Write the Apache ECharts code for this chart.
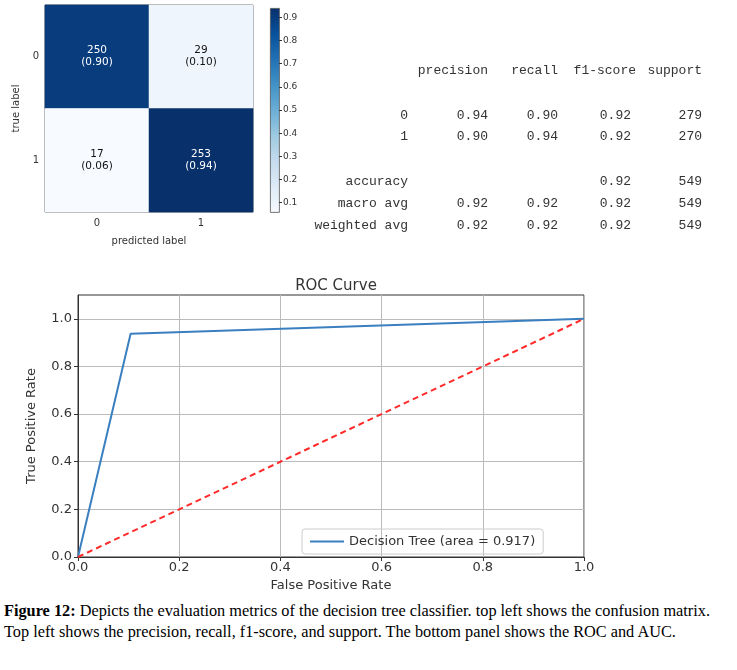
<!DOCTYPE html>
<html>
<head>
<meta charset="utf-8">
<script src="https://cdn.jsdelivr.net/npm/echarts@6/dist/echarts.min.js"></script>
<style>
  body { margin: 0; background: #fff; }
  #chart { width: 737px; height: 600px; }
  #cap { width: 728px; padding: 0 4px; font-family: "Liberation Serif", serif; font-size: 16.3px; line-height: 21px; color: #000; }
</style>
</head>
<body>
<div id="chart"></div>
<div id="cap"><b>Figure 12:</b> Depicts the evaluation metrics of the decision tree classifier. top left shows the confusion matrix. Top left shows the precision, recall, f1-score, and support. The bottom panel shows the ROC and AUC.</div>
<script>
// 混淆矩阵
var cmLabels = ['0', '1']
var cmCounts = [[250, 29], [17, 253]]
var cmRates = [[0.90, 0.10], [0.06, 0.94]]
var cbTicks = [0.1, 0.2, 0.3, 0.4, 0.5, 0.6, 0.7, 0.8, 0.9]

// 分类报告
var reportHeader = ['precision', 'recall', 'f1-score', 'support']
var reportRows = ['0', '1', 'accuracy', 'macro avg', 'weighted avg']
var reportValues = [
  ['0.94', '0.90', '0.92', '279'],
  ['0.90', '0.94', '0.92', '270'],
  ['', '', '0.92', '549'],
  ['0.92', '0.92', '0.92', '549'],
  ['0.92', '0.92', '0.92', '549']
]

// ROC
var rocFpr = [0, 0.104, 1]
var rocTpr = [0, 0.937, 1]
var chanceX = [0, 1]
var chanceY = [0, 1]
var rocTicks = [0, 0.2, 0.4, 0.6, 0.8, 1.0]

var blues = ['#f7fbff', '#deebf7', '#c6dbef', '#9ecae1', '#6baed6', '#4292c6', '#2171b5', '#08519c', '#08306b']
var txt = '#333'
var font = 'DejaVu Sans'

var heatData = []
cmCounts.forEach(function (row, i) {
  row.forEach(function (v, j) {
    heatData.push({
      value: [j, i, cmRates[i][j]],
      label: { color: cmRates[i][j] > 0.5 ? '#fff' : '#111' },
      count: v
    })
  })
})

var graphics = []
// 色条
graphics.push({
  type: 'rect', left: 270, top: 8,
  shape: { width: 9, height: 204 },
  style: {
    fill: new echarts.graphic.LinearGradient(0, 1, 0, 0, blues.map(function (c, i) {
      return { offset: i / (blues.length - 1), color: c }
    })),
    stroke: '#555', lineWidth: 0.8
  }
})
// 表格
var colRight = [488, 558, 631, 702]
var headRight = [488, 558, 636, 702]
var rowY = [116, 137, 182, 204, 226]
var mono = '13px "Liberation Mono"'
reportHeader.forEach(function (h, k) {
  graphics.push({ type: 'text', x: headRight[k], y: 71, style: { text: h, textAlign: 'right', textVerticalAlign: 'middle', font: mono, fill: txt } })
})
reportRows.forEach(function (r, i) {
  graphics.push({ type: 'text', x: 408, y: rowY[i], style: { text: r, textAlign: 'right', textVerticalAlign: 'middle', font: mono, fill: txt } })
  reportValues[i].forEach(function (v, k) {
    if (!v) return
    graphics.push({ type: 'text', x: colRight[k], y: rowY[i], style: { text: v, textAlign: 'right', textVerticalAlign: 'middle', font: mono, fill: txt } })
  })
})

var chart = echarts.init(document.getElementById('chart'))
chart.setOption({
  animation: false,
  textStyle: { fontFamily: font },
  title: {
    text: 'ROC Curve', left: 331, top: 274, textAlign: 'center',
    textStyle: { fontSize: 15, fontWeight: 'normal', color: txt }
  },
  grid: [
    { left: 45, top: 5, width: 208, height: 207, show: true, borderColor: '#555', borderWidth: 1 },
    { left: 279, top: 8, width: 1, height: 204 },
    { left: 78, top: 295, width: 506, height: 262, show: true, borderColor: '#333', borderWidth: 1 }
  ],
  xAxis: [
    {
      gridIndex: 0, type: 'category', data: cmLabels,
      name: 'predicted label', nameLocation: 'middle', nameGap: 24,
      nameTextStyle: { fontSize: 10, color: txt },
      axisLine: { show: false }, axisTick: { alignWithLabel: true, length: 4, lineStyle: { color: '#333' } },
      axisLabel: { fontSize: 10, color: txt, margin: 6 }
    },
    { gridIndex: 1, type: 'value', show: false },
    {
      gridIndex: 2, type: 'value', min: 0, max: 1, interval: 0.2,
      name: 'False Positive Rate', nameLocation: 'middle', nameGap: 22,
      nameTextStyle: { fontSize: 13, color: txt },
      axisLine: { lineStyle: { color: '#333' } },
      axisTick: { length: 4, lineStyle: { color: '#333' } },
      axisLabel: { fontSize: 13, color: txt, margin: 4, formatter: function (v) { return v.toFixed(1) } },
      splitLine: { show: true, lineStyle: { color: '#bbb' } }
    }
  ],
  yAxis: [
    {
      gridIndex: 0, type: 'category', data: cmLabels, inverse: true,
      name: 'true label', nameLocation: 'middle', nameGap: 24, nameRotate: 90,
      nameTextStyle: { fontSize: 10, color: txt },
      axisLine: { show: false }, axisTick: { alignWithLabel: true, length: 4, lineStyle: { color: '#333' } },
      axisLabel: { fontSize: 10, color: txt, margin: 6 }
    },
    {
      gridIndex: 1, type: 'value', min: 0.06, max: 0.94, position: 'right',
      axisLine: { show: false },
      axisTick: { show: true, length: 3, customValues: cbTicks, lineStyle: { color: '#333' } },
      axisLabel: { fontSize: 9, color: txt, margin: 3, customValues: cbTicks, formatter: function (v) { return v.toFixed(1) } },
      splitLine: { show: false }
    },
    {
      gridIndex: 2, type: 'value', min: 0, max: 1.1,
      name: 'True Positive Rate', nameLocation: 'middle', nameGap: 40, nameRotate: 90,
      nameTextStyle: { fontSize: 13, color: txt },
      axisLine: { lineStyle: { color: '#333' } },
      axisTick: { length: 4, customValues: rocTicks, lineStyle: { color: '#333' } },
      axisLabel: { fontSize: 13, color: txt, margin: 6, customValues: rocTicks, formatter: function (v) { return v.toFixed(1) } },
      splitLine: { show: true, lineStyle: { color: '#bbb' } }
    }
  ],
  visualMap: {
    show: false, min: 0.06, max: 0.94, seriesIndex: 0, dimension: 2,
    inRange: { color: blues }
  },
  legend: {
    data: ['Decision Tree (area = 0.917)'],
    left: 302, top: 529, padding: [6, 8],
    itemWidth: 34, itemHeight: 2, itemGap: 6,
    borderColor: '#ccc', borderWidth: 1, borderRadius: 3,
    textStyle: { fontSize: 13, color: txt },
    icon: 'rect'
  },
  graphic: graphics,
  series: [
    {
      type: 'heatmap', xAxisIndex: 0, yAxisIndex: 0, data: heatData,
      label: {
        show: true, fontSize: 10.5, lineHeight: 12,
        formatter: function (p) { return p.data.count + '\n(' + p.data.value[2].toFixed(2) + ')' }
      }
    },
    {
      name: 'Decision Tree (area = 0.917)', type: 'line', xAxisIndex: 2, yAxisIndex: 2,
      data: rocFpr.map(function (x, i) { return [x, rocTpr[i]] }),
      showSymbol: false, symbol: 'none', color: '#3a7fbf',
      lineStyle: { width: 2, color: '#3a7fbf' }
    },
    {
      type: 'line', xAxisIndex: 2, yAxisIndex: 2,
      data: chanceX.map(function (x, i) { return [x, chanceY[i]] }),
      showSymbol: false, symbol: 'none',
      lineStyle: { width: 2, color: '#ff2a2a', type: [6, 4] }
    }
  ]
})
</script>
</body>
</html>
